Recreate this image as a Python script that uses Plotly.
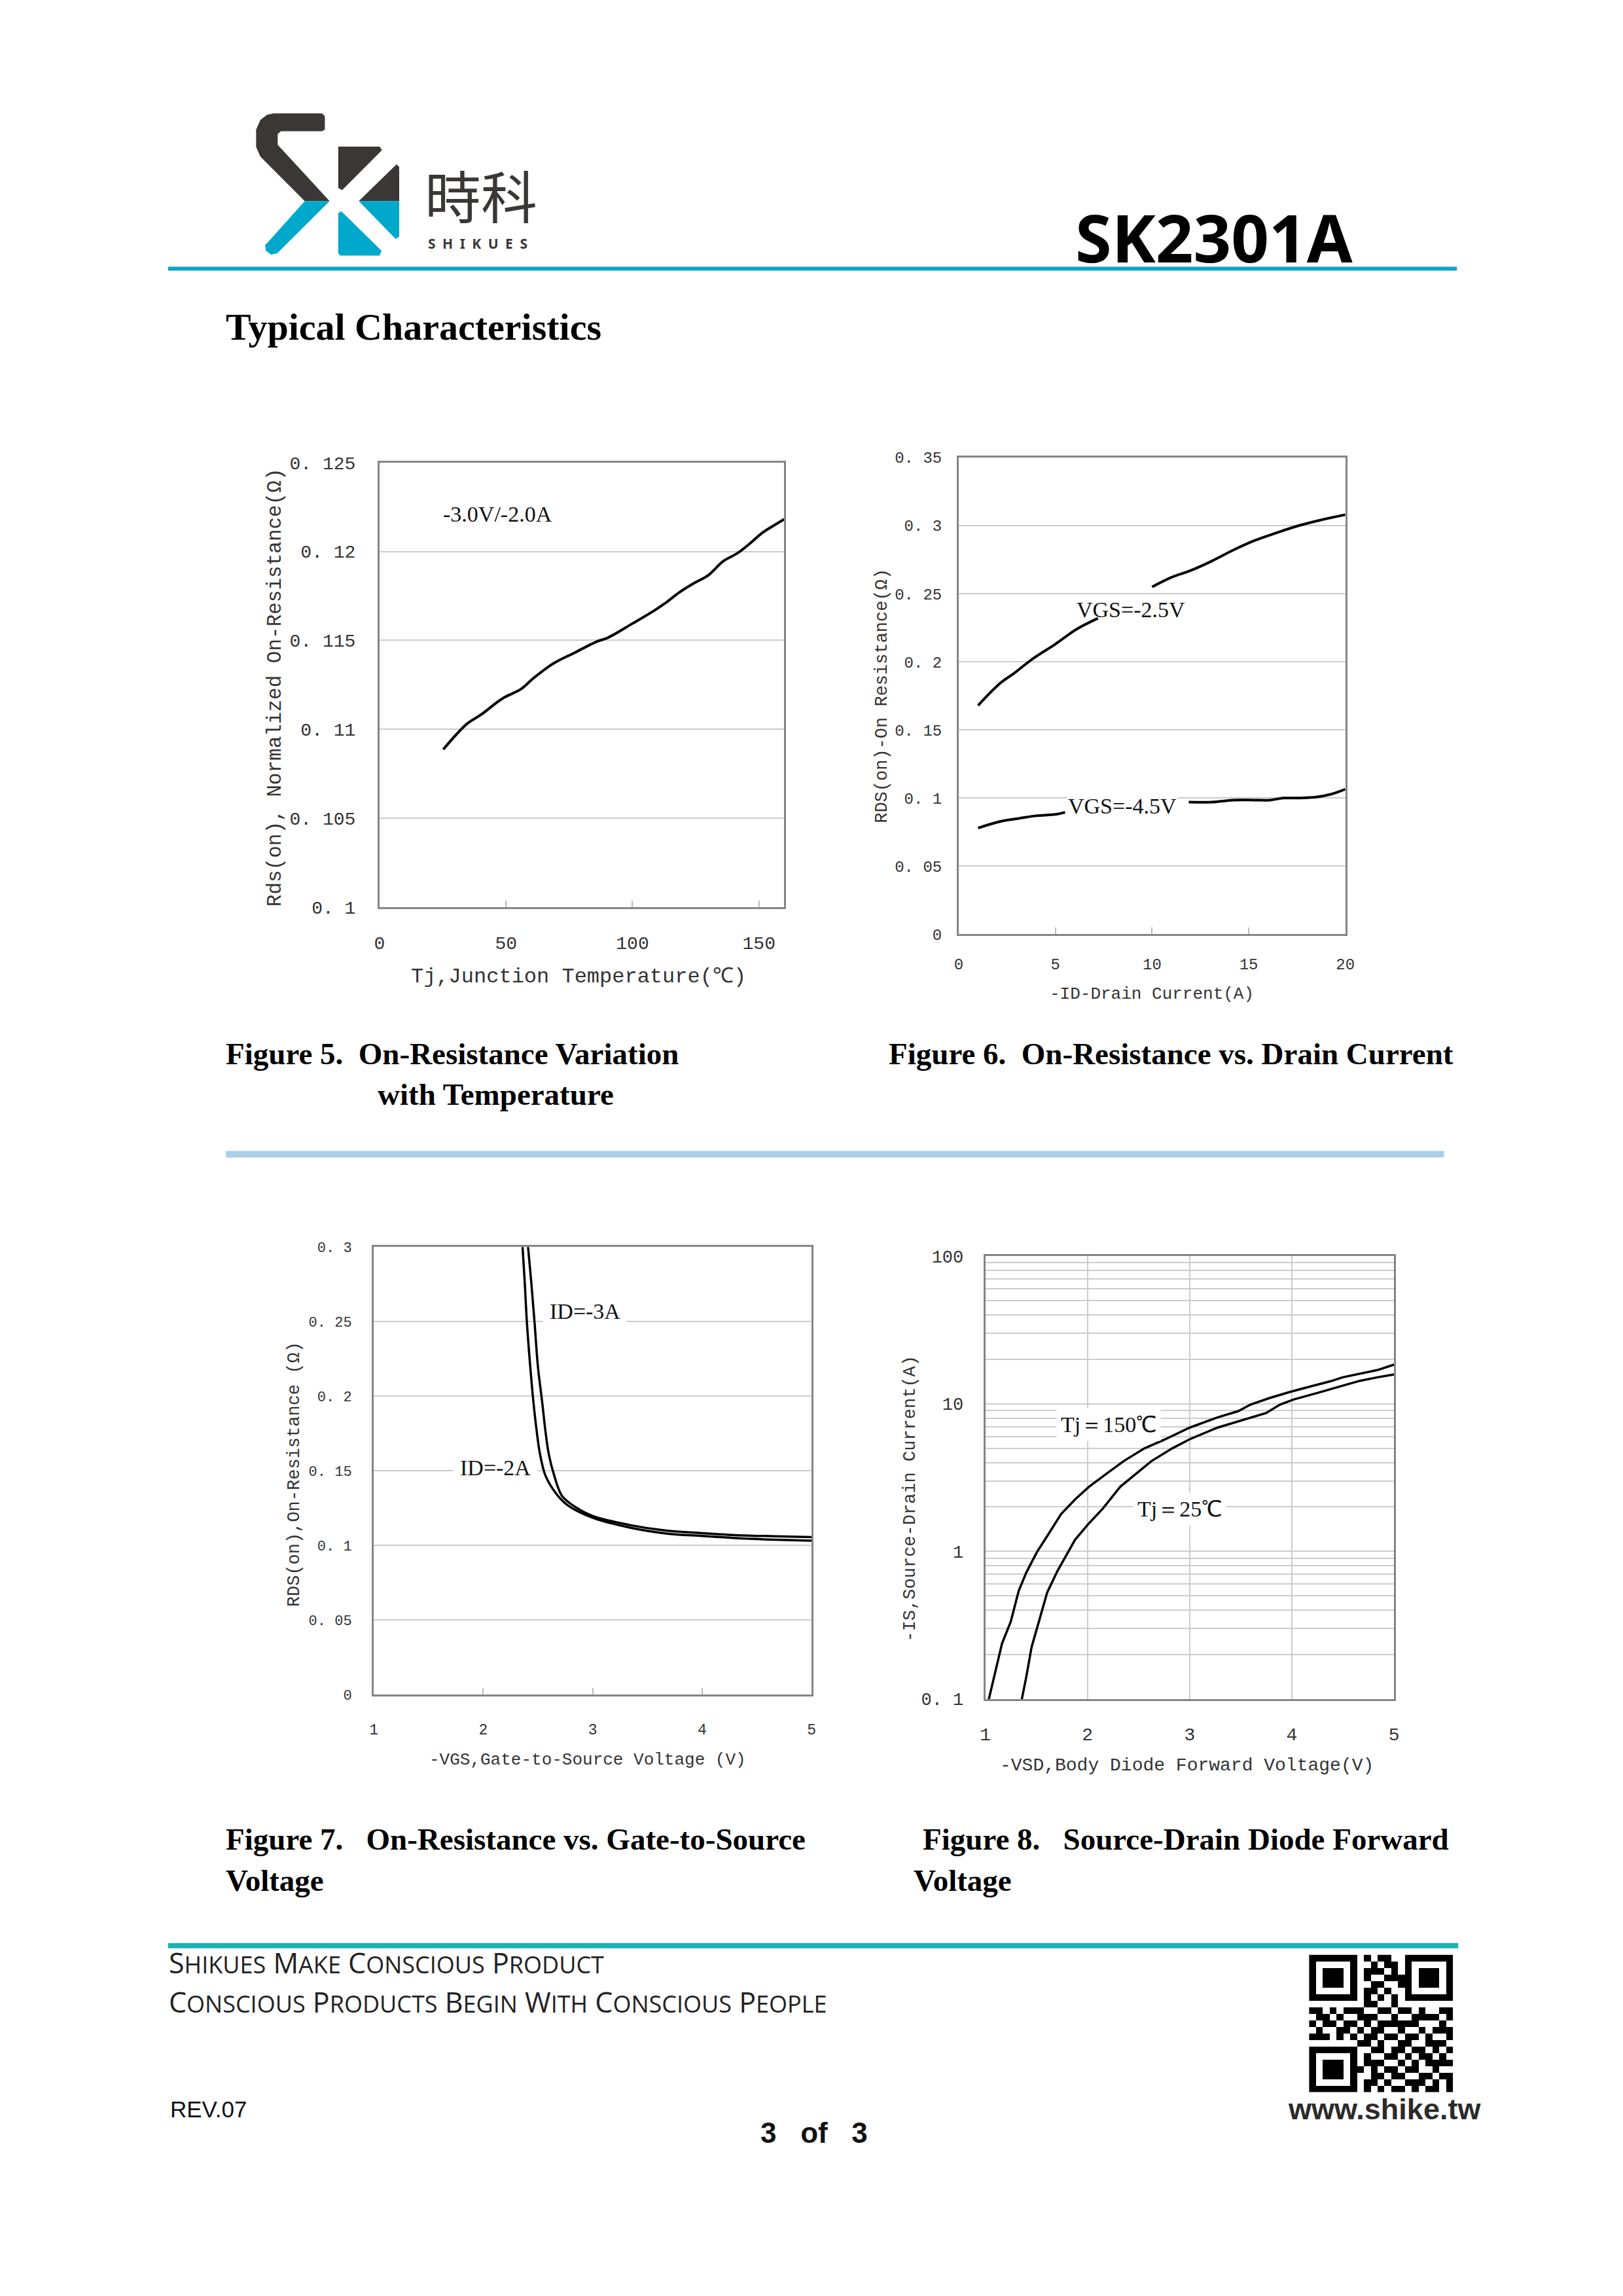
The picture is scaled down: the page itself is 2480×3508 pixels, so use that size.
import plotly.graph_objects as go

W, H = 2480, 3508
OFF = 8  # default body margin of the written page

# ---------------- data ----------------
# Figure 5: On-resistance vs junction temperature (-3.0V/-2.0A)
f5_tj = [25.2, 34.5, 40.2, 48.8, 55.9, 60.9, 68.7, 77.3, 85.8, 90.1, 100.1, 108.6,
         112.9, 118.6, 124.3, 130.0, 135.8, 141.5, 145.8, 151.4, 155.7, 160.0]
f5_rds = [0.10887, 0.11030, 0.11083, 0.11175, 0.11226, 0.11288, 0.11370, 0.11432,
          0.11493, 0.11514, 0.11596, 0.11668, 0.11709, 0.11771, 0.11822, 0.11867,
          0.11945, 0.11991, 0.12038, 0.12106, 0.12145, 0.12182]
f5_yticks = [0.1, 0.105, 0.11, 0.115, 0.12, 0.125]
f5_yticktext = ["0. 1", "0. 105", "0. 11", "0. 115", "0. 12", "0. 125"]
f5_xticks = [0, 50, 100, 150]

# Figure 6: On-resistance vs drain current (None = hidden behind label)
f6_id_25 = [1.0, 1.6, 2.2, 2.9, 3.8, 5.0, 6.1, 7.2, None, 10.0, 11.0, 12.0, 13.1,
            14.2, 15.3, 16.5, 17.6, 18.7, 20.0]
f6_r_25 = [0.168, 0.177, 0.185, 0.192, 0.202, 0.213, 0.224, 0.232, None, 0.255,
           0.262, 0.267, 0.274, 0.282, 0.289, 0.295, 0.300, 0.304, 0.308]
f6_id_45 = [1.0, 2.2, 3.1, 4.0, 5.0, 5.5, None, 11.9, 13.1, 14.2, 15.3, 16.1, 16.8,
            17.6, 18.5, 19.3, 20.0]
f6_r_45 = [0.078, 0.083, 0.085, 0.087, 0.088, 0.0895, None, 0.097, 0.097, 0.0985,
           0.0985, 0.0985, 0.100, 0.100, 0.1007, 0.103, 0.1065]
f6_yticks = [0, 0.05, 0.1, 0.15, 0.2, 0.25, 0.3, 0.35]
f6_yticktext = ["0", "0. 05", "0. 1", "0. 15", "0. 2", "0. 25", "0. 3", "0. 35"]
f6_xticks = [0, 5, 10, 15, 20]

# Figure 7: On-resistance vs gate-to-source voltage
f7_vgs_3a = [2.41, 2.44, 2.47, 2.50, 2.54, 2.57, 2.60, 2.65, 2.72, 2.84, 3.00, 3.34,
             3.67, 4.00, 4.33, 4.67, 5.00]
f7_r_3a = [0.300, 0.276, 0.249, 0.220, 0.1955, 0.176, 0.161, 0.1466, 0.1332, 0.1258,
           0.1197, 0.1136, 0.1099, 0.1082, 0.1068, 0.1061, 0.1055]
f7_vgs_2a = [2.36, 2.38, 2.40, 2.43, 2.46, 2.49, 2.52, 2.57, 2.67, 2.77, 3.00, 3.34,
             3.67, 4.00, 4.33, 4.67, 5.00]
f7_r_2a = [0.300, 0.276, 0.249, 0.220, 0.1955, 0.176, 0.161, 0.1466, 0.1344, 0.1270,
           0.1185, 0.1119, 0.1080, 0.1063, 0.1048, 0.1038, 0.1031]
f7_yticks = [0, 0.05, 0.1, 0.15, 0.2, 0.25, 0.3]
f7_yticktext = ["0", "0. 05", "0. 1", "0. 15", "0. 2", "0. 25", "0. 3"]
f7_xticks = [1, 2, 3, 4, 5]

# Figure 8: Source-drain diode forward voltage
f8_vsd_150 = [1.034, 1.095, 1.163, 1.248, 1.327, 1.401, 1.503, 1.605, 1.741, 1.878,
              2.014, 2.184, 2.354, 2.558, 2.762, 3.000, 3.272, 3.476, 3.595, 3.782,
              3.986, 4.190, 4.395, 4.497, 4.667, 4.837, 5.000]
f8_is_150 = [0.100, 0.151, 0.238, 0.334, 0.542, 0.720, 0.985, 1.27, 1.79, 2.25,
             2.74, 3.35, 4.09, 4.99, 5.75, 6.89, 8.08, 8.91, 9.87, 10.93,
             12.05, 13.13, 14.3, 15.1, 16.0, 16.9, 18.4]
f8_vsd_25 = [1.357, 1.401, 1.452, 1.503, 1.605, 1.707, 1.878, 2.014, 2.150, 2.320,
             2.490, 2.626, 2.830, 3.000, 3.272, 3.544, 3.748, 3.884, 4.020, 4.224,
             4.463, 4.667, 4.837, 5.000]
f8_is_25 = [0.100, 0.142, 0.224, 0.298, 0.527, 0.741, 1.20, 1.55, 1.95, 2.74,
            3.41, 4.09, 4.99, 5.75, 6.89, 7.85, 8.65, 9.87, 10.7, 11.7,
            13.1, 14.3, 15.1, 15.8]
f8_yticks = [0.1, 1, 10, 100]
f8_yticktext = ["0. 1", "1", "10", "100"]
f8_xticks = [1, 2, 3, 4, 5]

# QR-style module pattern for the footer badge
qr_rows = [
    "111111101011001111111", "100000100101101000001", "101110101110101011101",
    "101110101001111011101", "101110100110011011101", "100000101101001000001",
    "111111101010101111111", "000000001100100000000", "110101110011011010011",
    "011010011100100111101", "101101101011111100010", "010011010110010010111",
    "111010101101101101001", "000000011010011001110", "111111100110110110101",
    "100000101001101011010", "101110101110010101111", "101110110101101100100",
    "101110100110110011011", "100000101101001110101", "111111101010110101101",
]


def X(p):
    return (p - OFF) / W


def Y(p):
    return 1 - (p - OFF) / H


fig = go.Figure()

MONO = "Liberation Mono"
SERIF = "Liberation Serif"
AX_TXT = "#333333"
BOX = "#858585"
GRID = "#cccccc"

# ---------------- traces ----------------
line = dict(color="black", width=4)
fig.add_trace(go.Scatter(x=f5_tj, y=f5_rds, mode="lines", line=line, xaxis="x", yaxis="y",
                         line_shape="spline"))
fig.add_trace(go.Scatter(x=f6_id_25, y=f6_r_25, mode="lines", line=line, xaxis="x2", yaxis="y2",
                         line_shape="spline", connectgaps=False))
fig.add_trace(go.Scatter(x=f6_id_45, y=f6_r_45, mode="lines", line=line, xaxis="x2", yaxis="y2",
                         line_shape="spline", connectgaps=False))
line7 = dict(color="black", width=3.5)
fig.add_trace(go.Scatter(x=f7_vgs_3a, y=f7_r_3a, mode="lines", line=line7, xaxis="x3", yaxis="y3",
                         line_shape="spline"))
fig.add_trace(go.Scatter(x=f7_vgs_2a, y=f7_r_2a, mode="lines", line=line7, xaxis="x3", yaxis="y3",
                         line_shape="spline"))
fig.add_trace(go.Scatter(x=f8_vsd_150, y=f8_is_150, mode="lines", line=line7, xaxis="x4", yaxis="y4"))
fig.add_trace(go.Scatter(x=f8_vsd_25, y=f8_is_25, mode="lines", line=line7, xaxis="x4", yaxis="y4"))

qr_z = [[int(c) for c in row] for row in qr_rows]
fig.add_trace(go.Heatmap(z=qr_z, colorscale=[[0, "white"], [1, "black"]], showscale=False,
                         xaxis="x5", yaxis="y5", hoverinfo="skip"))


def xax(anchor, dom, rng, ticks, size, standoff, ticktext=None, inside_ticks=True):
    d = dict(anchor=anchor, domain=[X(dom[0]), X(dom[1])], range=rng, tickvals=ticks,
             ticktext=ticktext if ticktext else [str(t) for t in ticks],
             tickfont=dict(family=MONO, size=size, color=AX_TXT),
             showline=True, mirror=True, linecolor=BOX, linewidth=3,
             showgrid=False, zeroline=False, ticklabelstandoff=standoff)
    if inside_ticks:
        d.update(ticks="inside", ticklen=10, tickwidth=2, tickcolor="#bbbbbb")
    else:
        d.update(ticks="")
    return d


def yax(anchor, dom, rng, ticks, ticktext, size, standoff, **kw):
    d = dict(anchor=anchor, domain=[Y(dom[1]), Y(dom[0])], range=rng, tickvals=ticks,
             ticktext=ticktext,
             tickfont=dict(family=MONO, size=size, color=AX_TXT),
             showline=True, mirror=True, linecolor=BOX, linewidth=3,
             showgrid=True, gridcolor=GRID, gridwidth=2, zeroline=False, ticks="",
             ticklabelstandoff=standoff)
    d.update(kw)
    return d


layout = dict(
    width=W, height=H, margin=dict(l=0, r=0, t=0, b=0),
    paper_bgcolor="white", plot_bgcolor="white", showlegend=False,
    xaxis=xax("y", (577, 1201), [0, 160], f5_xticks, 28, 28),
    yaxis=yax("x", (700, 1385), [0.1, 0.125], f5_yticks, f5_yticktext, 28, 28),
    xaxis2=xax("y2", (1470, 2066), [0, 20], f6_xticks, 24, 22),
    yaxis2=yax("x2", (692, 1427), [0, 0.35], f6_yticks, f6_yticktext, 24, 18),
    xaxis3=xax("y3", (568, 1243), [1, 5], f7_xticks, 23, 30),
    yaxis3=yax("x3", (1909, 2599), [0, 0.3], f7_yticks, f7_yticktext, 22, 26),
    xaxis4=dict(xax("y4", (1511, 2141), [1, 5], f8_xticks, 28, 26, inside_ticks=False),
                showgrid=True, gridcolor=GRID, gridwidth=2),
    yaxis4=yax("x4", (1923, 2606), [-1, 2], f8_yticks, f8_yticktext, 27, 25, type="log",
               minor=dict(dtick="D1", showgrid=True, gridcolor=GRID, gridwidth=2)),
    xaxis5=dict(anchor="y5", domain=[X(2010), X(2232)], visible=False, range=[-0.5, 20.5]),
    yaxis5=dict(anchor="x5", domain=[Y(3212), Y(3000)], visible=False, range=[20.5, -0.5]),
)
fig.update_layout(**layout)

# ---------------- shapes (page decoration) ----------------
shapes = []


def hline(x0, x1, y, color, width):
    shapes.append(dict(type="line", xref="paper", yref="paper", x0=X(x0), x1=X(x1),
                       y0=Y(y), y1=Y(y), line=dict(color=color, width=width)))


hline(251, 2238, 401, "#0ea5c8", 6)       # header rule
hline(340, 2218, 1766, "#a9cfe9", 10)     # separator
hline(251, 2240, 2986, "#1bb3b3", 8)      # footer rule


def poly(pts, color):
    path = "M " + " L ".join(f"{X(px):.5f},{Y(py):.5f}" for px, py in pts) + " Z"
    shapes.append(dict(type="path", xref="paper", yref="paper", path=path,
                       fillcolor=color, line=dict(width=0)))


DARK = "#3b3736"
CYAN = "#00a9cb"
poly([(413.3, 161.7), (488.3, 161.7), (492.7, 166), (492.7, 186.7), (488.3, 189),
      (425, 189), (420, 193.3), (420, 210), (500, 296.7), (461.7, 296.7),
      (393.3, 228.3), (386.7, 213.3), (386.7, 186.7), (393.3, 171.7), (403.3, 164)], DARK)
poly([(461.7, 296.7), (500, 296.7), (419.3, 377.3), (410, 379.3), (401.7, 373.3),
      (400.7, 365)], CYAN)
poly([(513.3, 212.7), (577.3, 212.7), (580.7, 218.3), (519.3, 280), (513.3, 276.7)], DARK)
poly([(603.3, 240), (607.3, 244), (607.3, 296.7), (545, 296.7)], DARK)
poly([(545, 296.7), (607.3, 296.7), (607.3, 351.7), (601.7, 355)], CYAN)
poly([(513.3, 315), (518.3, 312.7), (580, 373.3), (577.3, 380.7), (516.7, 380.7),
      (513.3, 377.3)], CYAN)

fig.update_layout(shapes=shapes)

# ---------------- text ----------------
anns = []


def txt(text, x, y, size, family, color="black", xanchor="left", yanchor="middle",
        angle=0, bg=None, pad=1, weight="normal"):
    a = dict(text=text, x=X(x), y=Y(y), xref="paper", yref="paper", showarrow=False,
             xanchor=xanchor, yanchor=yanchor, textangle=angle,
             font=dict(family=family, size=size, color=color, weight=weight), borderpad=pad)
    if bg:
        a["bgcolor"] = bg
    anns.append(a)


NB = "\u00a0"
CAP = 47

# header
txt("時科", 645, 286, 86, "Noto Sans CJK TC", DARK)
txt("S\u2002H\u2002I\u2002K\u2002U\u2002E\u2002S", 650, 362, 21, "Noto Sans", DARK, weight="bold")
txt("SK2301A", 1648, 352, 101, "Noto Sans", "black", weight="bold")
txt("Typical Characteristics", 338, 491, 58, SERIF, "black", weight="bold")

# figure 5
txt("-3.0V/-2.0A", 673, 779, 34, SERIF, "#111111")
txt("Tj,Junction Temperature(℃)", 884, 1493, 32, MONO, AX_TXT, xanchor="center")
txt("Rds(on), Normalized On-Resistance(Ω)", 416, 1046, 31, MONO, AX_TXT,
    xanchor="center", angle=-90)
txt(f"Figure 5.{NB}{NB}On-Resistance Variation", 338, 1611, CAP, SERIF, weight="bold")
txt("with Temperature", 572, 1674, CAP, SERIF, weight="bold")

# figure 6
txt("VGS=-2.5V", 1650, 927, 34, SERIF, "#111111")
txt("VGS=-4.5V", 1636, 1229, 34, SERIF, "#111111", bg="white")
txt("-ID-Drain Current(A)", 1768, 1519, 26, MONO, AX_TXT, xanchor="center")
txt("RDS(on)-On Resistance(Ω)", 1352, 1060, 27, MONO, AX_TXT, xanchor="center", angle=-90)
txt(f"Figure 6.{NB}{NB}On-Resistance vs. Drain Current", 1360, 1611, CAP, SERIF,
    weight="bold")

# figure 7
txt("ID=-3A", 828, 2008, 34, SERIF, "#111111", bg="white", pad=10)
txt("ID=-2A", 690, 2249, 34, SERIF, "#111111", bg="white", pad=10)
txt("-VGS,Gate-to-Source Voltage (V)", 898, 2700, 26, MONO, AX_TXT, xanchor="center")
txt("RDS(on),On-Resistance (Ω)", 446, 2260, 27, MONO, AX_TXT, xanchor="center", angle=-90)
txt(f"Figure 7.{NB}{NB}{NB}On-Resistance vs. Gate-to-Source", 338, 2822, CAP, SERIF,
    weight="bold")
txt("Voltage", 338, 2885, CAP, SERIF, weight="bold")

# figure 8
txt("Tj＝150℃", 1620, 2183, 34, SERIF, "#111111", bg="white", pad=6)
txt("Tj＝25℃", 1738, 2313, 34, SERIF, "#111111", bg="white", pad=6)
txt("-VSD,Body Diode Forward Voltage(V)", 1822, 2708, 28, MONO, AX_TXT, xanchor="center")
txt("-IS,Source-Drain Current(A)", 1395, 2297, 27, MONO, AX_TXT, xanchor="center", angle=-90)
txt(f"Figure 8.{NB}{NB}{NB}Source-Drain Diode Forward", 1412, 2822, CAP, SERIF, weight="bold")
txt("Voltage", 1398, 2885, CAP, SERIF, weight="bold")


# footer
def sc(words, small=36):
    out = []
    for w in words:
        out.append(w[0] + f"<span style='font-size:{small}px'>{w[1:].upper()}</span>")
    return " ".join(out)


txt(sc(["Shikues", "Make", "Conscious", "Product"]), 250, 3012, 43, "Open Sans", "#222222")
txt(sc(["Conscious", "Products", "Begin", "With", "Conscious", "People"]), 250, 3073, 43,
    "Open Sans", "#222222")
txt("REV.07", 252, 3238, 35, "Liberation Sans", "#111111")
txt(f"3{NB}{NB}{NB}of{NB}{NB}{NB}3", 1247, 3274, 44, "Liberation Sans", "#111111",
    xanchor="center", weight="bold")
txt("www.shike.tw", 2126, 3238, 45, "Liberation Sans", "#2b2b2b", xanchor="center",
    weight="bold")

fig.update_layout(annotations=anns)

fig.write_html("out.html")
